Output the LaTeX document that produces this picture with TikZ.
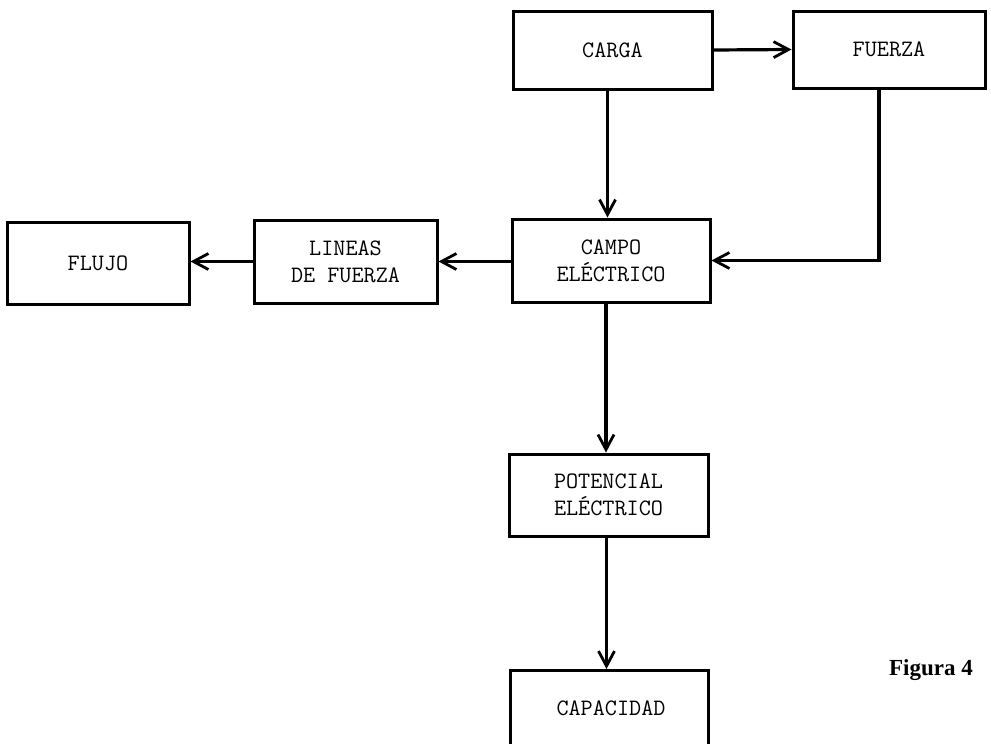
\documentclass[tikz,border=0pt]{standalone}
\usepackage{fontspec}
\setmainfont{Liberation Serif}
\usetikzlibrary{arrows.meta}

\tikzset{
  boxfont/.style={font=\ttfamily\fontsize{23.5}{27}\selectfont},
  concept/.style={draw=black, line width=3pt, fill=white, inner sep=0pt,
    align=center, boxfont},
  link/.style={line width=3.2pt, -{Straight Barb[length=15pt,width=16pt,line width=2.8pt]}},
}

\begin{document}
\begin{tikzpicture}[x=1pt, y=-1pt]
  % page frame
  \useasboundingbox (0,0) rectangle (991,744);
  \fill[white] (0,0) rectangle (991,744);
  \clip (0,0) rectangle (991,744);

  % concept boxes
  \node[concept, minimum width=199pt, minimum height=78pt] (carga) at (612.5,50) {CARGA};
  \node[concept, minimum width=192pt, minimum height=77pt] (fuerza) at (889,49.5) {FUERZA};
  \node[concept, minimum width=198pt, minimum height=83pt] (campo) at (611,260.5) {CAMPO\\EL\'ECTRICO};
  \node[concept, minimum width=183pt, minimum height=83pt] (lineas) at (345.5,261.5) {LINEAS\\DE FUERZA};
  \node[concept, minimum width=182pt, minimum height=82pt] (flujo) at (98,263) {FLUJO};
  \node[concept, minimum width=199pt, minimum height=82pt] (potencial) at (608.5,495) {POTENCIAL\\EL\'ECTRICO};
  % last box runs past the lower edge of the page
  \node[concept, minimum width=198pt, minimum height=120pt, anchor=north] (capacidad) at (609,669) {};
  \node[boxfont] (capacidadtxt) at (611,708) {CAPACIDAD};

  % caption
  \node[font=\fontsize{23}{28}\selectfont\bfseries] (fig) at (931,670) {Figura 4};

  % connectors
  \draw[link] (carga.east) -- (fuerza.west);
  \draw[link] ([xshift=-5pt]carga.south) -- ([xshift=-5pt]carga.south |- campo.north);
  \draw[link] ([xshift=-10pt]fuerza.south) |- (campo.east);
  \draw[link] (campo.west |- lineas.east) -- (lineas.east);
  \draw[link] (lineas.west) -- (lineas.west -| flujo.east);
  \draw[link] ([xshift=-5pt]campo.south) -- ([xshift=-5pt]campo.south |- potencial.north);
  \draw[link] ([xshift=-2pt]potencial.south) -- ([xshift=-2pt]potencial.south |- capacidad.north);
\end{tikzpicture}
\end{document}
